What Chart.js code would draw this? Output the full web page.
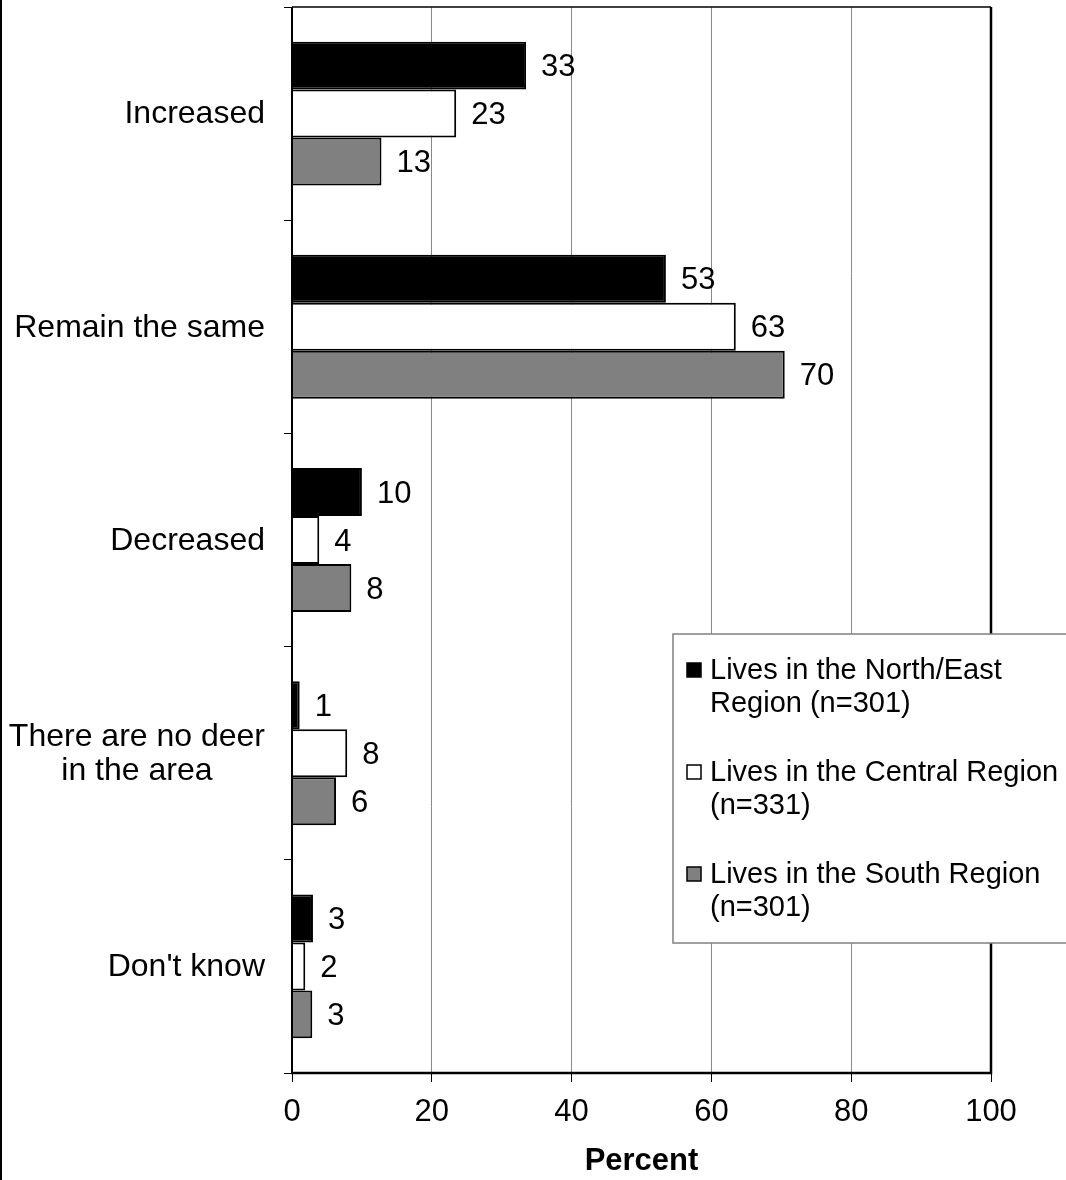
<!DOCTYPE html>
<html>
<head>
<meta charset="utf-8">
<script src="https://cdn.jsdelivr.net/npm/chart.js@4/dist/chart.umd.min.js"></script>
<style>
  html, body { margin: 0; padding: 0; background: #fff; }
  #wrap { width: 1066px; height: 1180px; position: relative; }
</style>
</head>
<body>
<div id="wrap"><canvas id="chart-area" width="1066" height="1180"></canvas></div>
<script>
// data
const categories = ['Increased', 'Remain the same', 'Decreased', ['There are no deer', 'in the area'], "Don't know"];
const northEast = [33.49, 53.49, 10.0, 1.1, 3.0];
const central = [23.49, 63.49, 3.9, 7.9, 1.9];
const south = [12.8, 70.49, 8.49, 6.3, 2.9];
const seriesNames = [
  ['Lives in the North/East', 'Region (n=301)'],
  ['Lives in the Central Region', '(n=331)'],
  ['Lives in the South Region', '(n=301)']
];
const xTicks = [0, 20, 40, 60, 80, 100];

const FONT = '"Liberation Sans", Arial, Helvetica, sans-serif';

// frame, left page rule, value labels, category labels, legend
const extras = {
  id: 'extras',
  afterDatasetsDraw(chart) {
    const ctx = chart.ctx;
    const a = chart.chartArea;
    ctx.save();
    // value labels
    ctx.font = '31px ' + FONT;
    ctx.fillStyle = '#000';
    ctx.textAlign = 'left';
    ctx.textBaseline = 'middle';
    chart.data.datasets.forEach((ds, i) => {
      chart.getDatasetMeta(i).data.forEach((bar, j) => {
        ctx.fillText(Math.round(ds.data[j]), bar.x + 15, bar.y + 2);
      });
    });
    // plot frame
    ctx.strokeStyle = '#000';
    ctx.lineWidth = 1.5;
    ctx.beginPath(); ctx.moveTo(a.left, a.top); ctx.lineTo(a.right, a.top); ctx.stroke();
    ctx.lineWidth = 2.5;
    ctx.beginPath(); ctx.moveTo(a.right, a.top); ctx.lineTo(a.right, a.bottom); ctx.lineTo(a.left - 1, a.bottom); ctx.stroke();
    ctx.lineWidth = 2;
    ctx.beginPath(); ctx.moveTo(a.left, a.top); ctx.lineTo(a.left, a.bottom); ctx.stroke();
    // left page rule
    ctx.lineWidth = 2;
    ctx.beginPath(); ctx.moveTo(1, 0); ctx.lineTo(1, chart.height); ctx.stroke();

    // category labels, block right aligned, lines centred
    const y = chart.scales.y;
    ctx.font = '32px ' + FONT;
    ctx.textAlign = 'center';
    categories.forEach((c, i) => {
      const lines = Array.isArray(c) ? c : [c];
      const w = Math.max(...lines.map(l => ctx.measureText(l).width));
      const cx = 265 - w / 2;
      const cy = y.getPixelForTick(i) + 1;
      const lh = 34;
      lines.forEach((l, k) => {
        ctx.fillText(l, cx, cy + (k - (lines.length - 1) / 2) * lh);
      });
    });

    // legend
    const lx = 673, ly = 634, lw = 420, lhgt = 309;
    ctx.fillStyle = '#fff';
    ctx.fillRect(lx, ly, lw, lhgt);
    ctx.strokeStyle = '#808080';
    ctx.lineWidth = 1.5;
    ctx.strokeRect(lx, ly, lw, lhgt);
    ctx.font = '29px ' + FONT;
    ctx.textAlign = 'left';
    chart.data.datasets.forEach((ds, i) => {
      const top = 671 + i * 102;
      ctx.fillStyle = ds.backgroundColor;
      ctx.fillRect(687, top - 8, 14, 14);
      ctx.strokeStyle = '#000';
      ctx.lineWidth = 1.5;
      ctx.strokeRect(687, top - 8, 14, 14);
      ctx.fillStyle = '#000';
      seriesNames[i].forEach((t, k) => ctx.fillText(t, 710, top + k * 33));
    });
    ctx.restore();
  }
};

const chart = new Chart(document.getElementById('chart-area').getContext('2d'), {
  type: 'bar',
  data: {
    labels: categories,
    datasets: [
      { label: seriesNames[0].join(' '), data: northEast, backgroundColor: '#000000', borderColor: '#000', borderWidth: 2 },
      { label: seriesNames[1].join(' '), data: central, backgroundColor: '#ffffff', borderColor: '#000', borderWidth: 2 },
      { label: seriesNames[2].join(' '), data: south, backgroundColor: '#808080', borderColor: '#000', borderWidth: 2 }
    ]
  },
  options: {
    indexAxis: 'y',
    responsive: false,
    animation: false,
    devicePixelRatio: 1,
    layout: { padding: { top: 7, right: 75, left: 0, bottom: 0 } },
    datasets: { bar: { categoryPercentage: 0.675, barPercentage: 1 } },
    plugins: { legend: { display: false }, tooltip: { enabled: false } },
    scales: {
      x: {
        min: 0, max: 100,
        afterBuildTicks: (s) => { s.ticks = xTicks.map(v => ({ value: v })); },
        afterFit: (s) => { s.height = 107; },
        border: { display: false },
        grid: { color: '#888', lineWidth: 1, tickColor: '#000', tickLength: 9 },
        ticks: { color: '#000', font: { family: FONT, size: 31 }, padding: 12 },
        title: { display: true, text: 'Percent', color: '#000', font: { family: FONT, size: 31, weight: 'bold' }, padding: { top: 6, bottom: 0 } }
      },
      y: {
        afterFit: (s) => { s.width = 292; },
        border: { display: false },
        grid: { drawOnChartArea: false, color: '#000', tickLength: 8, offset: true },
        ticks: { display: false }
      }
    }
  },
  plugins: [extras]
});
</script>
</body>
</html>
